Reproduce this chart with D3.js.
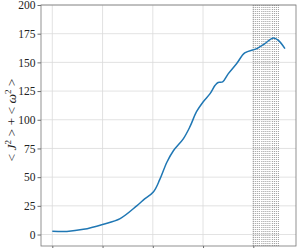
<!DOCTYPE html>
<html>
<head>
<meta charset="utf-8">
<script src="https://cdn.jsdelivr.net/npm/d3@7"></script>
<style>
  body { margin: 0; background: #fff; }
  text { font-family: "Liberation Serif", "DejaVu Serif", serif; }
</style>
</head>
<body>
<div id="chart"></div>
<script>
// curve
const times = [0, 0.29, 0.62, 1.0, 1.35, 1.68, 1.81, 2.01, 2.14, 2.28, 2.41, 2.61, 2.74, 2.87, 3.0, 3.14, 3.24, 3.30, 3.39, 3.50, 3.67, 3.83, 4.07, 4.23, 4.40, 4.50, 4.63];
const energy = [2.9, 2.7, 4.5, 8.8, 13.9, 25, 30, 37, 48, 63, 73, 83.6, 94, 107, 115.5, 122.8, 130, 132.5, 133, 140, 149, 158.2, 162, 166.4, 171.3, 169.2, 162];
const markers = [4.0, 4.04, 4.08, 4.12, 4.17, 4.21, 4.25, 4.29, 4.33, 4.38, 4.42, 4.46, 4.5];
const xTicks = [0, 1, 2, 3, 4];
const yTicks = [0, 25, 50, 75, 100, 125, 150, 175, 200];

const W = 299, H = 248;
const margin = { top: 5, right: 3, bottom: 2, left: 41 };

const svg = d3.select("#chart").append("svg")
    .attr("width", W)
    .attr("height", H);

const x = d3.scaleLinear().domain([-0.225, 4.85]).range([margin.left, W - margin.right]);
const y = d3.scaleLinear().domain([-10, 200]).range([H - margin.bottom, margin.top]);

// grid
svg.append("g").selectAll("line")
    .data(xTicks).enter().append("line")
    .attr("x1", d => x(d)).attr("x2", d => x(d))
    .attr("y1", y(-10)).attr("y2", y(200))
    .attr("stroke", "#dadada").attr("stroke-width", 0.8);
svg.append("g").selectAll("line")
    .data(yTicks).enter().append("line")
    .attr("x1", x(-0.225)).attr("x2", x(4.85))
    .attr("y1", d => y(d)).attr("y2", d => y(d))
    .attr("stroke", "#dadada").attr("stroke-width", 0.8);

// dotted markers
svg.append("g").selectAll("line")
    .data(markers).enter().append("line")
    .attr("x1", d => x(d)).attr("x2", d => x(d))
    .attr("y1", y(-10)).attr("y2", y(200))
    .attr("stroke", "#555").attr("stroke-width", 0.6)
    .attr("stroke-dasharray", "1,1");

// curve
const line = d3.line()
    .x((d, i) => x(times[i]))
    .y(d => y(d))
    .curve(d3.curveCatmullRom);
svg.append("path")
    .attr("d", line(energy))
    .attr("fill", "none")
    .attr("stroke", "#1f77b4")
    .attr("stroke-width", 1.5);

// axes
const yAxis = svg.append("g")
    .attr("transform", `translate(${margin.left},0)`)
    .call(d3.axisLeft(y).tickValues(yTicks).tickSize(3.5).tickPadding(2));
yAxis.selectAll("text").style("font-size", "11.5px").attr("fill", "#222");

const xAxis = svg.append("g")
    .attr("transform", `translate(0,${H - margin.bottom})`)
    .call(d3.axisBottom(x).tickValues(xTicks).tickSize(3.5).tickFormat(""));

svg.selectAll(".domain").remove();
svg.selectAll(".tick line").attr("stroke", "#444").attr("stroke-width", 0.8);

svg.append("rect")
    .attr("x", margin.left).attr("y", margin.top)
    .attr("width", W - margin.right - margin.left)
    .attr("height", H - margin.bottom - margin.top)
    .attr("fill", "none")
    .attr("stroke", "#777")
    .attr("stroke-width", 0.8);

// y label
const lab = svg.append("text")
    .attr("transform", "translate(16,120) rotate(-90)")
    .attr("text-anchor", "middle")
    .style("font-size", "13.5px")
    .attr("fill", "#222");
lab.append("tspan").text("< ");
lab.append("tspan").style("font-style", "italic").text("J");
lab.append("tspan").attr("dy", -5).style("font-size", "9px").text("2");
lab.append("tspan").attr("dy", 5).text(" > + < ");
lab.append("tspan").style("font-style", "italic").text("ω");
lab.append("tspan").attr("dy", -5).style("font-size", "9px").text("2");
lab.append("tspan").attr("dy", 5).text(" >");
</script>
</body>
</html>
